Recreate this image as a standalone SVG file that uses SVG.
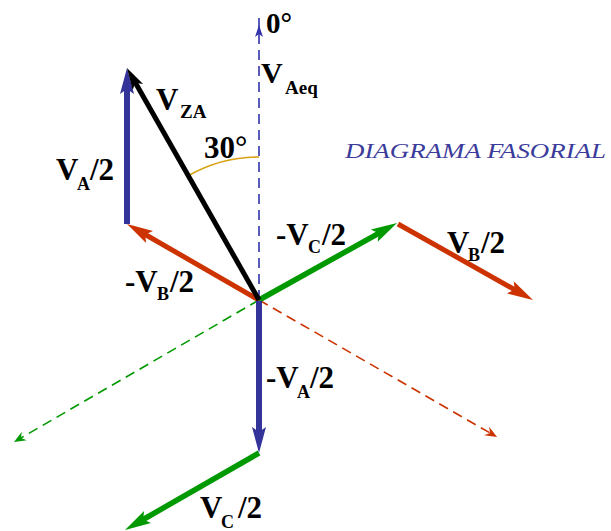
<svg xmlns="http://www.w3.org/2000/svg" width="611" height="531" viewBox="0 0 611 531">
<style>
.lbl{font-family:"Liberation Serif","Times New Roman",Times,serif;font-weight:bold;font-size:31px;fill:#000}
.sub{font-size:18px}
.title{font-family:"Liberation Serif","Times New Roman",Times,serif;font-style:italic;font-size:22px;fill:#3b3b9b}
.dash{fill:none;stroke-width:1.6;stroke-dasharray:10,6}
.thick{fill:none;stroke-linecap:butt}
</style>
<defs>
<marker id="hBlue" markerUnits="userSpaceOnUse" markerWidth="40" markerHeight="20" viewBox="0 -10 40 20" refX="8" refY="0" orient="auto" overflow="visible"><path d="M0,-7 L26,0 L0,7 L5,0 z" fill="#333399"/></marker>
<marker id="hRed" markerUnits="userSpaceOnUse" markerWidth="40" markerHeight="20" viewBox="0 -10 40 20" refX="8" refY="0" orient="auto" overflow="visible"><path d="M0,-7 L26,0 L0,7 L5,0 z" fill="#cc3300"/></marker>
<marker id="hGreen" markerUnits="userSpaceOnUse" markerWidth="40" markerHeight="20" viewBox="0 -10 40 20" refX="8" refY="0" orient="auto" overflow="visible"><path d="M0,-7 L26,0 L0,7 L5,0 z" fill="#009900"/></marker>
<marker id="hBlack" markerUnits="userSpaceOnUse" markerWidth="40" markerHeight="20" viewBox="0 -10 40 20" refX="7" refY="0" orient="auto" overflow="visible"><path d="M0,-6 L22,0 L0,6 L5,0 z" fill="#000"/></marker>
<marker id="sRed" markerUnits="userSpaceOnUse" markerWidth="20" markerHeight="12" viewBox="0 -6 20 12" refX="4" refY="0" orient="auto" overflow="visible"><path d="M0,-5 L12,0 L0,5 L4,0 z" fill="#cc3300"/></marker>
<marker id="sGreen" markerUnits="userSpaceOnUse" markerWidth="20" markerHeight="12" viewBox="0 -6 20 12" refX="4" refY="0" orient="auto" overflow="visible"><path d="M0,-5 L12,0 L0,5 L4,0 z" fill="#009900"/></marker>
</defs>

<g id="connectors">
  <path id="vaeq-line" class="dash" stroke="#3333aa" d="M259,300 L259,12"/>
  <polygon points="259,25 255,37 259,34 263,37" fill="#3333aa"/>
  <path id="vc-dash" class="dash" stroke="#009900" d="M259,300 L20.9,438" marker-end="url(#sGreen)"/>
  <path id="vb-dash" class="dash" stroke="#cc3300" d="M259,300 L490.1,433" marker-end="url(#sRed)"/>
  <path id="arc30" d="M188.3,175.7 A143,143 0 0 1 259,157" fill="none" stroke="#d9a010" stroke-width="1.6"/>
  <path id="mvb2" class="thick" stroke="#cc3300" stroke-width="5" d="M259,300 L142.6,233" marker-end="url(#hRed)"/>
  <path id="vb2" class="thick" stroke="#cc3300" stroke-width="5" d="M398,224 L517.3,291.2" marker-end="url(#hRed)"/>
  <path id="mvc2" class="thick" stroke="#009900" stroke-width="5.5" d="M259,300 L381.3,231.8" marker-end="url(#hGreen)"/>
  <path id="vc2" class="thick" stroke="#009900" stroke-width="5.5" d="M259,453 L140.6,521" marker-end="url(#hGreen)"/>
  <path id="va2" class="thick" stroke="#333399" stroke-width="6" d="M127,224 L127,86" marker-end="url(#hBlue)"/>
  <path id="mva2" class="thick" stroke="#333399" stroke-width="6" d="M259,301 L259,435" marker-end="url(#hBlue)"/>
  <path id="vza" class="thick" stroke="#000" stroke-width="5" d="M259,300 L134.4,81" marker-end="url(#hBlack)"/>
</g>

<g id="label-0deg"><text class="lbl" x="266" y="33" style="font-size:29px">0°</text></g>
<g id="label-vaeq"><text class="lbl"><tspan x="261" y="83" style="font-size:30px">V</tspan><tspan class="sub" x="285" y="94" style="font-size:19px">Aeq</tspan></text></g>
<g id="label-vza"><text class="lbl"><tspan x="156" y="110">V</tspan><tspan class="sub" x="180" y="118" style="font-size:19px">ZA</tspan></text></g>
<g id="label-30"><text class="lbl" x="204" y="158">30°</text></g>
<g id="label-va2"><text class="lbl"><tspan x="56" y="180">V</tspan><tspan class="sub" x="77" y="190">A</tspan><tspan x="90" y="180">/2</tspan></text></g>
<g id="label-mvb2"><text class="lbl"><tspan x="125" y="292">-V</tspan><tspan class="sub" x="157" y="300">B</tspan><tspan x="170" y="292">/2</tspan></text></g>
<g id="label-mvc2"><text class="lbl"><tspan x="276" y="245">-V</tspan><tspan class="sub" x="308" y="253">C</tspan><tspan x="322" y="245">/2</tspan></text></g>
<g id="label-vb2"><text class="lbl"><tspan x="447" y="253">V</tspan><tspan class="sub" x="468" y="261">B</tspan><tspan x="481" y="253">/2</tspan></text></g>
<g id="label-mva2"><text class="lbl"><tspan x="266" y="388">-V</tspan><tspan class="sub" x="297" y="398">A</tspan><tspan x="310" y="388">/2</tspan></text></g>
<g id="label-vc2"><text class="lbl"><tspan x="200" y="518">V</tspan><tspan class="sub" x="221" y="528">C</tspan><tspan x="238" y="518">/2</tspan></text></g>
<g id="title"><text class="title" x="345" y="158" textLength="261" lengthAdjust="spacingAndGlyphs">DIAGRAMA FASORIAL</text></g>
</svg>
